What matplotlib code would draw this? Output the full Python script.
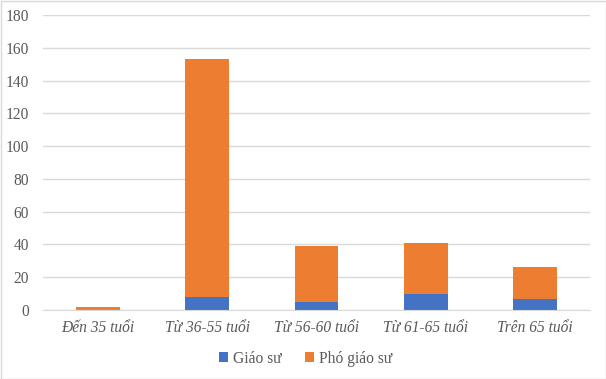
import matplotlib.pyplot as plt
from matplotlib.patches import Rectangle

categories = ['Đến 35 tuổi', 'Từ 36-55 tuổi', 'Từ 56-60 tuổi', 'Từ 61-65 tuổi', 'Trên 65 tuổi']
giao_su = [0, 8, 5, 10, 7]
pho_giao_su = [2, 145, 34, 31, 19]

blue = '#4472C4'
orange = '#ED7D31'
grey = '#595959'

plt.rcParams['font.family'] = ['Liberation Serif', 'DejaVu Serif']

fig = plt.figure(figsize=(6.06, 3.79), dpi=100)
ax = fig.add_axes([43 / 606, 69 / 379, 547 / 606, 295 / 379])

x = range(len(categories))
ax.bar(x, giao_su, width=0.4, color=blue, label='Giáo sư', zorder=2)
ax.bar(x, pho_giao_su, width=0.4, bottom=giao_su, color=orange, label='Phó giáo sư', zorder=2)

ax.set_xlim(-0.5, len(categories) - 0.5)
ax.set_ylim(0, 180)
ax.set_yticks(range(0, 181, 20))
ax.set_xticks(list(x))
ax.set_xticklabels(categories, style='italic')
ax.tick_params(axis='both', length=0, labelsize=11.2, colors=grey)
ax.tick_params(axis='x', pad=7)
ax.tick_params(axis='y', pad=10)
ax.grid(axis='y', color='#D9D9D9', linewidth=1, zorder=0)
for side in ['top', 'right', 'left']:
    ax.spines[side].set_visible(False)
ax.spines['bottom'].set_color('#D9D9D9')

ax.legend(loc='center', bbox_to_anchor=(0.48, -0.165), ncol=2, frameon=False,
          fontsize=11.2, handlelength=0.6, handleheight=0.6, handletextpad=0.3,
          columnspacing=1.5, labelcolor=grey)

fig.patches.append(Rectangle((0.5 / 606, 0.5 / 379), 605 / 606, 378 / 379,
                             transform=fig.transFigure, fill=False,
                             edgecolor='#D9D9D9', linewidth=1))

fig.savefig('out.png', dpi=100)
